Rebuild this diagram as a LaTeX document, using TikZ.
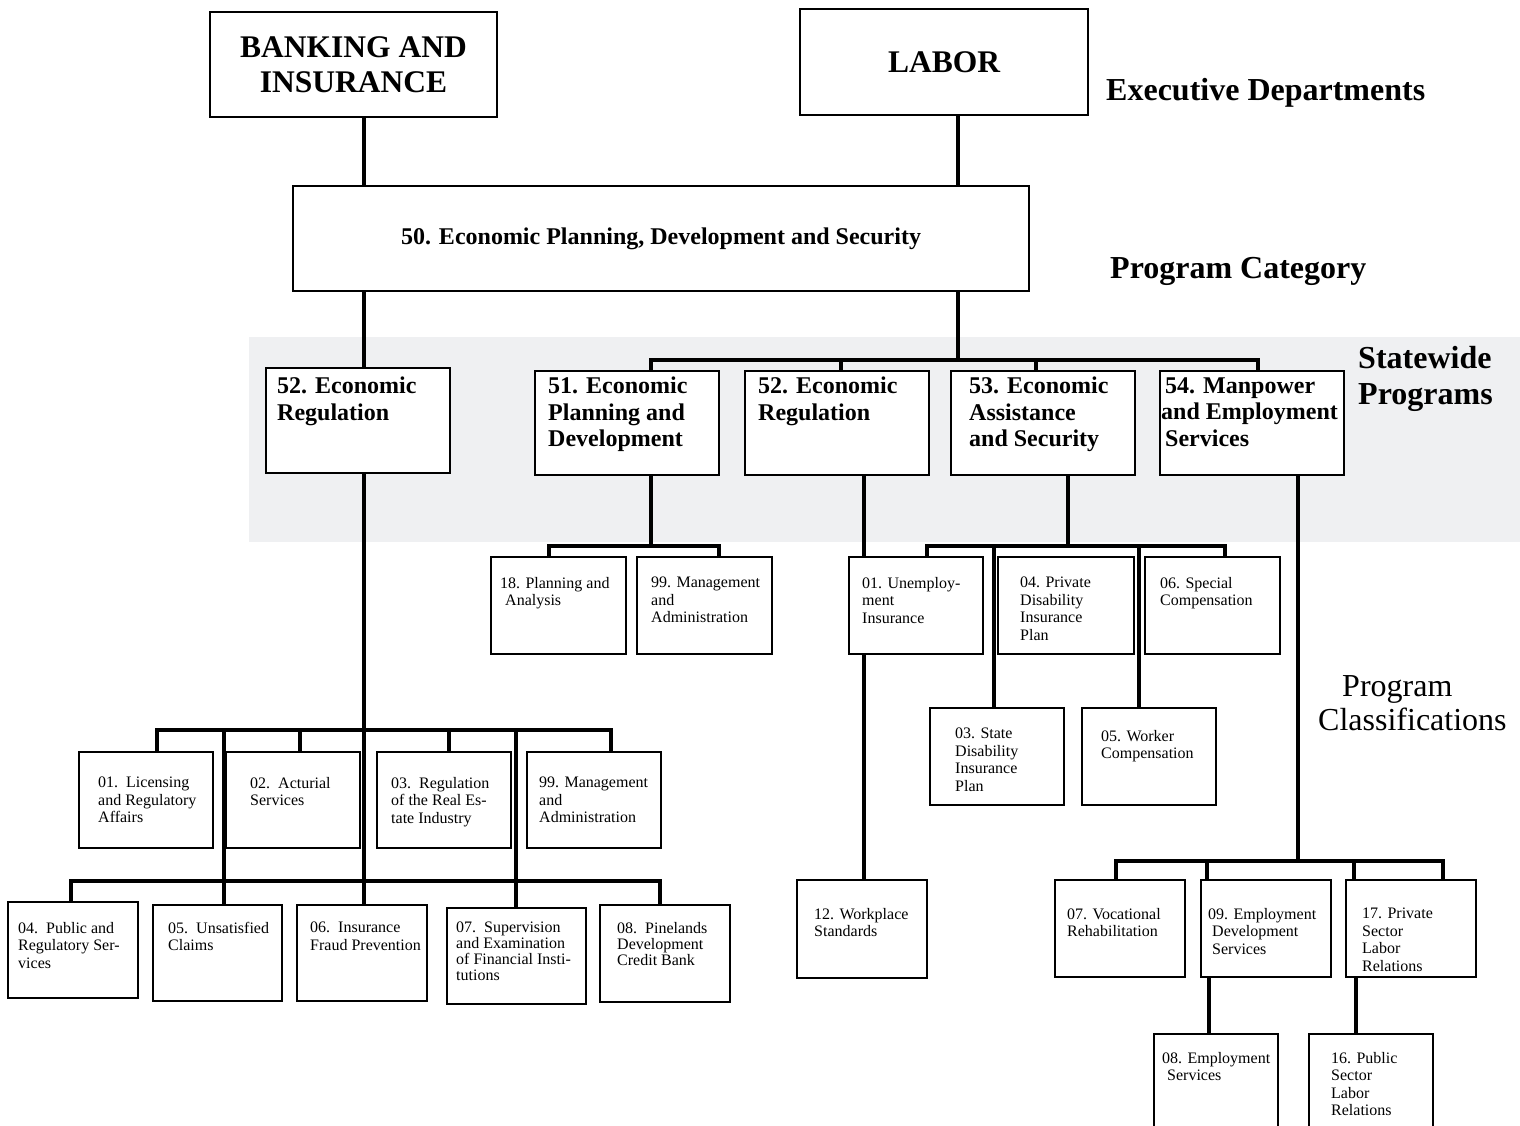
\documentclass[tikz,border=0pt]{standalone}
\usepackage{fontspec}
\setmainfont{Liberation Serif}
\usepackage{tikz}
\definecolor{bandgrey}{RGB}{239,240,242}
% box of the chart with its text set at the top left
\newcommand{\orgbox}[9]{%
  \node[boxed, minimum width=#5pt, minimum height=#6pt] (#2) at (#3,#4) {};
  \node[#1] (#2t) at ([xshift=#7pt, yshift=-#8pt]#2.north west) {#9};}

\begin{document}
\begin{tikzpicture}[x=1pt, y=-1pt,
    boxed/.style={draw, line width=2pt, fill=white, anchor=north west, inner sep=0pt},
    topbox/.style={boxed, align=center, font=\bfseries\fontsize{31.5}{35}\selectfont},
    prgtext/.style={anchor=north west, inner sep=0pt, align=left, font=\bfseries\fontsize{24}{26.5}\selectfont},
    clstext/.style={anchor=north west, inner sep=0pt, align=left, font=\fontsize{16}{17.5}\selectfont},
    tightcls/.style={clstext, font=\fontsize{16}{16}\selectfont},
    sidelab/.style={anchor=west, inner sep=0pt, align=left, font=\bfseries\fontsize{32}{36}\selectfont},
    link/.style={line width=3.2pt}]
    \useasboundingbox (0,0) rectangle (1520,1125);
    \clip (0,0) rectangle (1520,1125);
    \fill[bandgrey] (249,337) rectangle (1520,542);

    % departments and category
    \node[topbox, minimum width=287pt, minimum height=105pt] (BI) at (209,11) {BANKING AND\\INSURANCE};
    \node[topbox, minimum width=288pt, minimum height=106pt] (Lab) at (799,8) {LABOR};
    \node[boxed, minimum width=736pt, minimum height=105pt, font=\bfseries\fontsize{24}{28}\selectfont] (EPDS) at (292,185) {50. Economic Planning, Development and Security};

    \node[sidelab] (ED) at (1106,93) {Executive Departments};
    \node[sidelab] (PC) at (1110,271) {Program Category};
    \node[sidelab] (SP) at (1358,379) {Statewide\\Programs};
    \node[sidelab, font=\fontsize{32}{34}\selectfont] (PCl) at (1318,703) {\hspace*{24pt}Program\\Classifications};

    % statewide programs
    \orgbox{prgtext}{R1}{265}{367}{184}{105}{12}{10}{52. Economic\\Regulation}
    \orgbox{prgtext}{EPD}{534}{370}{184}{104}{14}{7}{51. Economic\\Planning and\\Development}
    \orgbox{prgtext}{R2}{744}{370}{184}{104}{14}{7}{52. Economic\\Regulation}
    \orgbox{prgtext}{EAS}{950}{370}{184}{104}{19}{7}{53. Economic\\Assistance\\and Security}
    \orgbox{prgtext}{MES}{1159}{370}{184}{104}{2}{7}{\hspace*{4pt}54. Manpower\\and Employment\\\hspace*{4pt}Services}

    % program classifications
    \orgbox{clstext}{PA}{490}{556}{135}{97}{10}{21}{18. Planning and\\\hspace*{5pt}Analysis}
    \orgbox{clstext}{MA1}{636}{556}{135}{97}{15}{21}{99. Management\\and\\Administration}
    \orgbox{clstext}{UI}{848}{556}{134}{97}{14}{21}{01. Unemploy-\\ment\\Insurance}
    \orgbox{clstext}{PD}{997}{556}{136}{97}{23}{21}{04. Private\\Disability\\Insurance\\Plan}
    \orgbox{clstext}{SC}{1144}{556}{135}{97}{16}{21}{06. Special\\Compensation}
    \orgbox{clstext}{SD}{929}{707}{134}{97}{26}{21}{03. State\\Disability\\Insurance\\Plan}
    \orgbox{clstext}{WC}{1081}{707}{134}{97}{20}{23}{05. Worker\\Compensation}
    \orgbox{clstext}{WS}{796}{879}{130}{98}{18}{29}{12. Workplace\\Standards}
    \orgbox{clstext}{VR}{1054}{879}{130}{97}{13}{29}{07. Vocational\\Rehabilitation}
    \orgbox{clstext}{EDS}{1200}{879}{130}{97}{8}{29}{09. Employment\\\hspace*{4pt}Development\\\hspace*{4pt}Services}
    \orgbox{clstext}{PSL}{1345}{879}{130}{97}{17}{29}{17. Private\\Sector\\Labor\\Relations}
    \orgbox{clstext}{ES}{1153}{1033}{124}{100}{9}{19}{08. Employment\\\hspace*{5pt}Services}
    \orgbox{clstext}{PUB}{1308}{1033}{124}{100}{23}{19}{16. Public\\Sector\\Labor\\Relations}

    \orgbox{clstext}{LRA}{78}{751}{134}{96}{20}{26}{01.~~Licensing\\and Regulatory\\Affairs}
    \orgbox{clstext}{AS}{225}{751}{134}{96}{25}{26}{02.~~Acturial\\Services}
    \orgbox{clstext}{RE}{376}{751}{134}{96}{15}{26}{03.~~Regulation\\of the Real Es-\\tate Industry}
    \orgbox{clstext}{MA2}{526}{751}{134}{96}{13}{26}{99. Management\\and\\Administration}
    \orgbox{clstext}{PRS}{7}{901}{130}{96}{11}{21}{04.~~Public and\\Regulatory Ser-\\vices}
    \orgbox{clstext}{UC}{152}{904}{129}{96}{16}{18}{05.~~Unsatisfied\\Claims}
    \orgbox{clstext}{IFP}{296}{904}{130}{96}{14}{18}{06.~~Insurance\\Fraud Prevention}
    \orgbox{tightcls}{SE}{446}{907}{139}{96}{10}{15}{07.~~Supervision\\and Examination\\of Financial Insti-\\tutions}
    \orgbox{tightcls}{PDC}{599}{904}{130}{97}{18}{18}{08.~~Pinelands\\Development\\Credit Bank}

    % departments to category
    \draw[link] (BI.south -| 364,0) -- (EPDS.north -| 364,0);
    \draw[link] (Lab.south -| 958,0) -- (EPDS.north -| 958,0);

    % category to statewide programs
    \coordinate (J1) at (958,360);
    \draw[link] (EPDS.south -| 364,0) -- (R1.north -| 364,0);
    \draw[link] (EPDS.south -| J1) -- (J1);
    \draw[link] (EPD.north -| 651,0) |- (J1) -| (MES.north -| 1258,0);
    \draw[link] (R2.north -| 841,0) -- (841,0 |- J1);
    \draw[link] (EAS.north -| 1036,0) -- (1036,0 |- J1);

    % 52 (banking and insurance)
    \coordinate (J5) at (364,730);
    \coordinate (J6) at (364,881);
    \draw[link] (R1.south -| J5) -- (IFP.north -| J5);
    \draw[link] (LRA.north -| 157,0) |- (J5) -| (MA2.north -| 611,0);
    \draw[link] (AS.north -| 300,0) -- (300,0 |- J5);
    \draw[link] (RE.north -| 449,0) -- (449,0 |- J5);
    \draw[link] (224,0 |- J5) -- (UC.north -| 224,0);
    \draw[link] (516,0 |- J5) -- (SE.north -| 516,0);
    \draw[link] (PRS.north -| 71,0) |- (J6) -| (PDC.north -| 660,0);

    % 51
    \coordinate (J2) at (651,546);
    \draw[link] (EPD.south -| J2) -- (J2);
    \draw[link] (PA.north -| 549,0) |- (J2) -| (MA1.north -| 719,0);

    % 52 (labor)
    \draw[link] (R2.south -| 864,0) -- (UI.north -| 864,0);
    \draw[link] (UI.south -| 864,0) -- (WS.north -| 864,0);

    % 53
    \coordinate (J3) at (1068,546);
    \draw[link] (EAS.south -| J3) -- (J3);
    \draw[link] (UI.north -| 927,0) |- (J3) -| (SC.north -| 1225,0);
    \draw[link] (994,0 |- J3) -- (SD.north -| 994,0);
    \draw[link] (1139,0 |- J3) -- (WC.north -| 1139,0);

    % 54
    \coordinate (J4) at (1298,861);
    \draw[link] (MES.south -| J4) -- (J4);
    \draw[link] (VR.north -| 1116,0) |- (J4) -| (PSL.north -| 1443,0);
    \draw[link] (EDS.north -| 1207,0) -- (1207,0 |- J4);
    \draw[link] (PSL.north -| 1354,0) -- (1354,0 |- J4);
    \draw[link] (EDS.south -| 1209,0) -- (ES.north -| 1209,0);
    \draw[link] (PSL.south -| 1356,0) -- (PUB.north -| 1356,0);
  \end{tikzpicture}
\end{document}
